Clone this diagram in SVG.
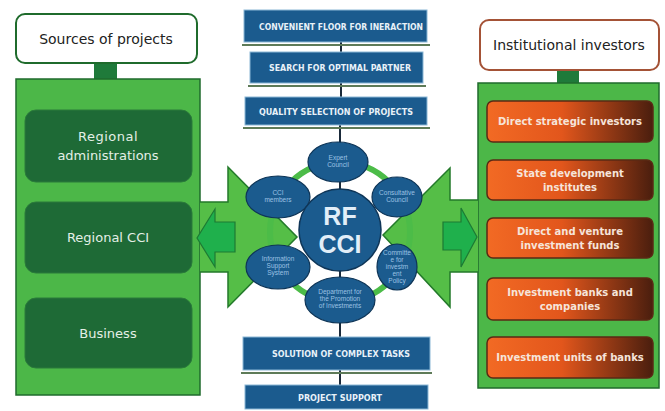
<svg xmlns="http://www.w3.org/2000/svg" width="665" height="411" viewBox="0 0 665 411">
<defs>
<linearGradient id="og" x1="0" y1="0" x2="1" y2="0">
<stop offset="0" stop-color="#f26a24"/>
<stop offset="0.45" stop-color="#e2561c"/>
<stop offset="1" stop-color="#4a1e0e"/>
</linearGradient>
<style>
.panel{fill:#4cb748;stroke:#1f6b2c;stroke-width:1.5}
.dbox{fill:#1e6a36;stroke:#2a7a3a;stroke-width:1}
.dt{font-family:"DejaVu Sans",sans-serif;font-size:13px;fill:#e4efe6;text-anchor:middle}
.bbox{fill:#1b5b8e;stroke:#8bb8d6;stroke-width:1}
.bt{font-family:"DejaVu Sans",sans-serif;font-weight:bold;font-size:8.8px;fill:#e8f1f8;text-anchor:middle}
.sh{stroke:#5e7b58;stroke-width:2}
.obox{fill:url(#og);stroke:#5a2a14;stroke-width:1.5}
.ot{font-family:"DejaVu Sans",sans-serif;font-weight:bold;font-size:10px;fill:#f6e4da;text-anchor:middle}
.ell{fill:#1b5b8e;stroke:#0e3557;stroke-width:1.2}
.et{font-family:"Liberation Sans",sans-serif;font-size:6.5px;fill:#9cc2e4;text-anchor:middle}
.big{fill:#55be47;stroke:#237a2a;stroke-width:1.5}
.small{fill:#1fb04c;stroke:#1d7a33;stroke-width:1.2}
.ttl{font-family:"DejaVu Sans",sans-serif;font-size:14px;fill:#222;text-anchor:middle}
</style>
</defs>
<rect width="665" height="411" fill="#ffffff"/>

<g id="connectors">
<line x1="341" y1="42" x2="341" y2="52" stroke="#1a2a3a" stroke-width="2"/>
<line x1="341" y1="83" x2="341" y2="97" stroke="#1a2a3a" stroke-width="2"/>
<line x1="340" y1="125" x2="340" y2="337" stroke="#1a2a3a" stroke-width="2"/>
<line x1="340" y1="370" x2="340" y2="385" stroke="#1a2a3a" stroke-width="2"/>
<rect x="94" y="63" width="23" height="17" fill="#1f7a3a"/>
<rect x="557" y="70" width="22" height="14" fill="#1f7a3a"/>
</g>

<g id="left-panel">
<rect class="panel" x="16" y="79" width="184" height="316"/>
<path class="big" d="M200,202 L228,202 L228,167 L297,237 L228,307 L228,272 L200,272"/>
<path class="small" d="M235,222 L215,222 L215,209 L197,238 L215,267 L215,252 L235,252 Z"/>
</g>
<g id="right-panel">
<rect class="panel" x="478" y="83" width="181" height="305"/>
<path class="big" d="M478,200 L450,200 L450,168 L383,235 L450,307 L450,272 L478,272"/>
<path class="small" d="M443,222 L461,222 L461,208 L477,237 L461,267 L461,250 L443,250 Z"/>
</g>

<g id="ring">
<circle cx="340" cy="232" r="70" fill="none" stroke="#4cbc48" stroke-width="6"/>
</g>

<g id="sources-title">
<rect x="16" y="14" width="181" height="49" rx="9" fill="#ffffff" stroke="#1f6b2c" stroke-width="2"/>
<text class="ttl" x="106" y="44">Sources of projects</text>
</g>
<g id="regional-administrations">
<rect class="dbox" x="25" y="110" width="167" height="72" rx="11"/>
<text class="dt" x="108" y="141" letter-spacing="0.5">Regional</text>
<text class="dt" x="108" y="160">administrations</text>
</g>
<g id="regional-cci">
<rect class="dbox" x="25" y="202" width="167" height="71" rx="11"/>
<text class="dt" x="108" y="242">Regional CCI</text>
</g>
<g id="business">
<rect class="dbox" x="25" y="298" width="167" height="70" rx="11"/>
<text class="dt" x="108" y="338">Business</text>
</g>

<g id="investors-title">
<rect x="480" y="20" width="179" height="50" rx="9" fill="#ffffff" stroke="#a45236" stroke-width="2"/>
<text class="ttl" x="569" y="50">Institutional investors</text>
</g>
<g id="direct-strategic">
<rect class="obox" x="487" y="101" width="166" height="41" rx="6"/>
<text class="ot" x="570" y="125">Direct strategic investors</text>
</g>
<g id="state-development">
<rect class="obox" x="487" y="160" width="166" height="40" rx="6"/>
<text class="ot" x="570" y="177">State development</text>
<text class="ot" x="570" y="191">institutes</text>
</g>
<g id="venture-funds">
<rect class="obox" x="487" y="218" width="166" height="40" rx="6"/>
<text class="ot" x="570" y="235">Direct and venture</text>
<text class="ot" x="570" y="249">investment funds</text>
</g>
<g id="investment-banks">
<rect class="obox" x="487" y="278" width="166" height="42" rx="6"/>
<text class="ot" x="570" y="296">Investment banks and</text>
<text class="ot" x="570" y="310">companies</text>
</g>
<g id="investment-units">
<rect class="obox" x="487" y="337" width="166" height="41" rx="6"/>
<text class="ot" x="570" y="361">Investment units of banks</text>
</g>

<g id="convenient-floor">
<line class="sh" x1="242" y1="45" x2="430" y2="45"/>
<rect class="bbox" x="244" y="10" width="183" height="32"/>
<text class="bt" x="341" y="30" textLength="164" lengthAdjust="spacingAndGlyphs">CONVENIENT FLOOR FOR INERACTION</text>
</g>
<g id="optimal-partner">
<line class="sh" x1="248" y1="86" x2="426" y2="86"/>
<rect class="bbox" x="250" y="52" width="173" height="31"/>
<text class="bt" x="340" y="71" textLength="142" lengthAdjust="spacingAndGlyphs">SEARCH FOR OPTIMAL PARTNER</text>
</g>
<g id="quality-selection">
<line class="sh" x1="243" y1="128" x2="430" y2="128"/>
<rect class="bbox" x="245" y="97" width="182" height="28"/>
<text class="bt" x="336" y="115" textLength="154" lengthAdjust="spacingAndGlyphs">QUALITY SELECTION OF PROJECTS</text>
</g>
<g id="complex-tasks">
<line class="sh" x1="241" y1="373" x2="432" y2="373"/>
<rect class="bbox" x="243" y="337" width="187" height="33"/>
<text class="bt" x="341" y="357" textLength="138" lengthAdjust="spacingAndGlyphs">SOLUTION OF COMPLEX TASKS</text>
</g>
<g id="project-support">
<rect class="bbox" x="245" y="385" width="183" height="24"/>
<text class="bt" x="340" y="401" textLength="84" lengthAdjust="spacingAndGlyphs">PROJECT SUPPORT</text>
</g>

<g id="expert-council">
<ellipse class="ell" cx="338" cy="162" rx="30" ry="20"/>
<text class="et" x="338" y="160">Expert</text>
<text class="et" x="338" y="167">Council</text>
</g>
<g id="consultative-council">
<ellipse class="ell" cx="397" cy="197" rx="25" ry="20"/>
<text class="et" x="397" y="195">Consultative</text>
<text class="et" x="397" y="202">Council</text>
</g>
<g id="cci-members">
<ellipse class="ell" cx="278" cy="197" rx="32" ry="21"/>
<text class="et" x="278" y="195">CCI</text>
<text class="et" x="278" y="202">members</text>
</g>
<g id="information-support">
<ellipse class="ell" cx="278" cy="267" rx="32" ry="22"/>
<text class="et" x="278" y="261">Information</text>
<text class="et" x="278" y="268">Support</text>
<text class="et" x="278" y="275">System</text>
</g>
<g id="committee-investment">
<ellipse class="ell" cx="397" cy="267" rx="20" ry="23"/>
<text class="et" x="397" y="255">Committe</text>
<text class="et" x="397" y="262">e for</text>
<text class="et" x="397" y="269">investm</text>
<text class="et" x="397" y="276">ent</text>
<text class="et" x="397" y="283">Policy</text>
</g>
<g id="department-promotion">
<ellipse class="ell" cx="340" cy="300" rx="35" ry="23"/>
<text class="et" x="340" y="294">Department for</text>
<text class="et" x="340" y="301">the Promotion</text>
<text class="et" x="340" y="308">of Investments</text>
</g>
<g id="rf-cci">
<circle cx="340" cy="230" r="41" fill="#1b5b8e" stroke="#0e3557" stroke-width="1.5"/>
<text x="340" y="225" font-family="Liberation Sans, sans-serif" font-size="25" font-weight="bold" fill="#e2eef8" text-anchor="middle">RF</text>
<text x="340" y="253" font-family="Liberation Sans, sans-serif" font-size="25" font-weight="bold" fill="#e2eef8" text-anchor="middle">CCI</text>
</g>
</svg>
